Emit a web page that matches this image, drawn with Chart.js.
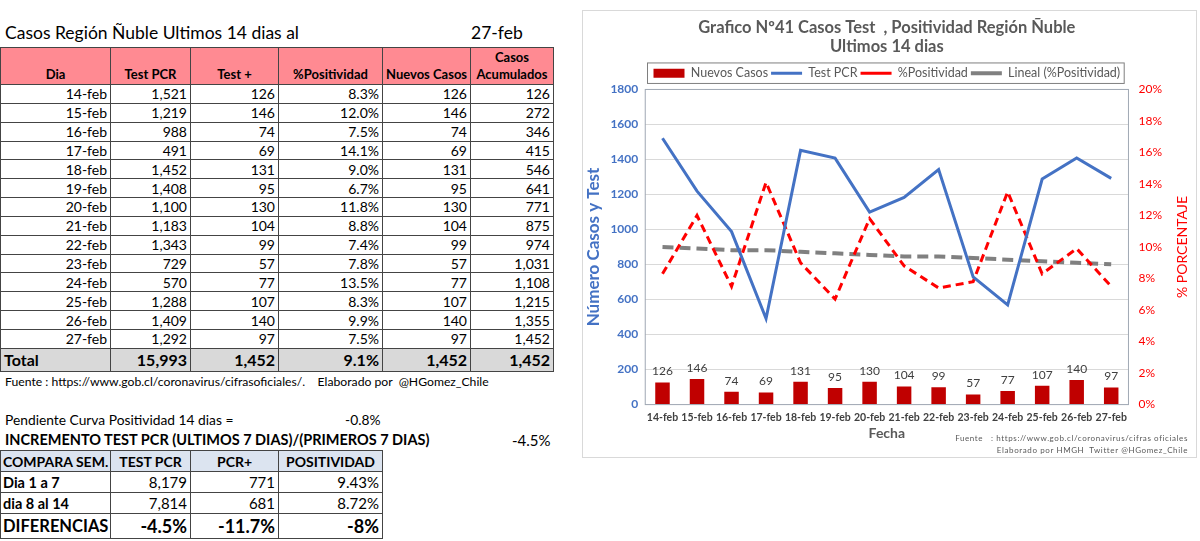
<!DOCTYPE html>
<html>
<head>
<meta charset="utf-8">
<script src="https://cdn.jsdelivr.net/npm/chart.js@4"></script>
<style>
  body { margin: 0; background: #fff; font-family: Lato, "Open Sans", sans-serif; color: #000; }
  #page { position: relative; width: 1200px; height: 541px; overflow: hidden; }
  .abs { position: absolute; white-space: nowrap; }
  table { border-collapse: collapse; table-layout: fixed; position: absolute; left: 0; }
  td, th { border: 1px solid #444; padding: 0 3px; overflow: hidden; white-space: nowrap; }
  #tabla { width: 553px; }
  #tabla th { background: #FF8A92; font-size: 13px; font-weight: bold; vertical-align: bottom; text-align: center; line-height: 17px; padding-bottom: 1px; }
  #tabla td { font-size: 14px; text-align: right; height: 17.85px; line-height: 17px; }
  #tabla tr.total td { background: #D9D9D9; font-weight: bold; font-size: 16px; height: 22px; }
  #tabla tr.total td:first-child { text-align: left; }
  #compara { width: 382px; }
  #compara th { background: #DCE4F0; font-size: 14px; font-weight: bold; height: 20px; text-align: center; padding: 0 2px; }
  #compara th:first-child { text-align: left; }
  #compara td { font-size: 15px; text-align: right; height: 20px; }
  #compara td:first-child { text-align: left; font-weight: bold; font-size: 14.5px; padding: 0 2px; }
  #compara tr.dif td { font-size: 18px; font-weight: bold; height: 24px; }
  #compara tr.dif td:first-child { font-size: 16.5px; }
  #chartBox { position: absolute; left: 582px; top: 10px; width: 613px; height: 446px; border: 1px solid #D9D9D9; }
  .nota { position: absolute; right: 8px; font-size: 8px; color: #595959; letter-spacing: 0.6px; }
</style>
</head>
<body>
<div id="page">
  <div class="abs" style="left:5px; top:22px; font-size:17.5px;">Casos Región Ñuble Ultimos 14 dias al</div>
  <div class="abs" style="left:471px; top:22px; font-size:17.5px;">27-feb</div>

  <table id="tabla" style="top:47px;">
    <colgroup><col style="width:110px"><col style="width:80px"><col style="width:88px"><col style="width:104px"><col style="width:88px"><col style="width:83px"></colgroup>
    <thead>
      <tr style="height:37px;"><th>Dia</th><th>Test PCR</th><th>Test +</th><th>%Positividad</th><th>Nuevos Casos</th><th>Casos<br>Acumulados</th></tr>
    </thead>
    <tbody id="filas"></tbody>
  </table>

  <div class="abs" style="left:5px; top:374px; font-size:12.2px;">Fuente : https://www.gob.cl/coronavirus/cifrasoficiales/.&nbsp;&nbsp;&nbsp;&nbsp;Elaborado por&nbsp; @HGomez_Chile</div>

  <div class="abs" style="left:5px; top:411px; font-size:13.8px;">Pendiente Curva Positividad 14 dias =</div>
  <div class="abs" style="left:345px; top:411px; font-size:13.8px;">-0.8%</div>
  <div class="abs" style="left:5px; top:431px; font-size:14.5px; font-weight:bold;">INCREMENTO TEST PCR (ULTIMOS 7 DIAS)/(PRIMEROS 7 DIAS)</div>
  <div class="abs" style="left:512px; top:431px; font-size:15px;">-4.5%</div>

  <table id="compara" style="top:450px;">
    <colgroup><col style="width:110px"><col style="width:80px"><col style="width:88px"><col style="width:104px"></colgroup>
    <tr><th>COMPARA SEM.</th><th>TEST PCR</th><th>PCR+</th><th>POSITIVIDAD</th></tr>
    <tr><td>Dia 1 a 7</td><td>8,179</td><td>771</td><td>9.43%</td></tr>
    <tr><td>dia 8 al 14</td><td>7,814</td><td>681</td><td>8.72%</td></tr>
    <tr class="dif"><td>DIFERENCIAS</td><td>-4.5%</td><td>-11.7%</td><td>-8%</td></tr>
  </table>

  <div id="chartBox">
    <canvas id="chart"></canvas>
    <div class="nota" style="top:422px;">Fuente&nbsp;&nbsp; : https://www.gob.cl/coronavirus/cifras oficiales</div>
    <div class="nota" style="top:434px;">Elaborado por HMGH&nbsp; Twitter @HGomez_Chile</div>
  </div>
</div>

<script>
// datos de los ultimos 14 dias
const fechas = ['14-feb', '15-feb', '16-feb', '17-feb', '18-feb', '19-feb', '20-feb',
    '21-feb', '22-feb', '23-feb', '24-feb', '25-feb', '26-feb', '27-feb'];
const testPCR = [1521, 1219, 988, 491, 1452, 1408, 1100, 1183, 1343, 729, 570, 1288, 1409, 1292];
const testPositivos = [126, 146, 74, 69, 131, 95, 130, 104, 99, 57, 77, 107, 140, 97];
const positividad = [8.3, 12.0, 7.5, 14.1, 9.0, 6.7, 11.8, 8.8, 7.4, 7.8, 13.5, 8.3, 9.9, 7.5];
const nuevosCasos = [126, 146, 74, 69, 131, 95, 130, 104, 99, 57, 77, 107, 140, 97];
const acumulados = [126, 272, 346, 415, 546, 641, 771, 875, 974, 1031, 1108, 1215, 1355, 1452];
// linea de tendencia
const tendencia = [10.0, 9.9, 9.8, 9.8, 9.7, 9.6, 9.5, 9.4, 9.4, 9.3, 9.2, 9.1, 9.0, 8.9];

const fmt = n => n.toLocaleString('en-US');

let filas = '';
fechas.forEach((f, i) => {
    filas += '<tr><td>' + f + '</td><td>' + fmt(testPCR[i]) + '</td><td>' + testPositivos[i] +
        '</td><td>' + positividad[i].toFixed(1) + '%</td><td>' + nuevosCasos[i] + '</td><td>' + fmt(acumulados[i]) + '</td></tr>';
});
filas += '<tr class="total"><td>Total</td><td>15,993</td><td>1,452</td><td>9.1%</td><td>1,452</td><td>1,452</td></tr>';
document.getElementById('filas').innerHTML = filas;

Chart.defaults.font.family = 'Lato';

// marco del area de grafico, recuadro de leyenda, etiquetas y titulo derecho
const extras = {
    id: 'extras',
    beforeDatasetsDraw(chart) {
        const a = chart.chartArea;
        const c = chart.ctx;
        c.save();
        c.strokeStyle = '#A0A8B4';
        c.lineWidth = 1;
        c.strokeRect(a.left, a.top, a.right - a.left, a.bottom - a.top);
        c.restore();
    },
    afterDatasetsDraw(chart) {
        const c = chart.ctx;
        const meta = chart.getDatasetMeta(0);
        c.save();
        c.font = '12px Lato';
        c.fillStyle = '#404040';
        c.textAlign = 'center';
        c.textBaseline = 'bottom';
        meta.data.forEach((bar, i) => {
            c.fillText(nuevosCasos[i], bar.x, bar.y - 5);
        });
        c.restore();
    },
    afterDraw(chart) {
        const c = chart.ctx;
        const lg = chart.legend;
        c.save();
        if (lg && lg.legendHitBoxes.length) {
            const hb = lg.legendHitBoxes;
            const l = Math.min(...hb.map(h => h.left)) - 6;
            const r = Math.max(...hb.map(h => h.left + h.width)) + 4;
            const t = Math.min(...hb.map(h => h.top)) - 4;
            const b = Math.max(...hb.map(h => h.top + h.height)) + 4;
            c.strokeStyle = '#7F7F7F';
            c.lineWidth = 1;
            c.strokeRect(l, t, r - l, b - t);
        }
        const a = chart.chartArea;
        c.translate(chart.width - 14, (a.top + a.bottom) / 2);
        c.rotate(-Math.PI / 2);
        c.font = '14px Lato';
        c.fillStyle = '#FF0000';
        c.textAlign = 'center';
        c.textBaseline = 'middle';
        c.fillText('% PORCENTAJE', 0, 0);
        c.restore();
    }
};

new Chart(document.getElementById('chart'), {
    data: {
        labels: fechas,
        datasets: [{
            type: 'bar',
            label: 'Nuevos Casos',
            data: nuevosCasos,
            backgroundColor: '#C00000',
            yAxisID: 'y',
            categoryPercentage: 1,
            barPercentage: 0.42
        }, {
            type: 'line',
            label: 'Test PCR',
            data: testPCR,
            borderColor: '#4472C4',
            backgroundColor: '#4472C4',
            borderWidth: 3,
            pointRadius: 0,
            tension: 0,
            yAxisID: 'y'
        }, {
            type: 'line',
            label: '%Positividad',
            data: positividad,
            borderColor: '#FF0000',
            backgroundColor: '#FF0000',
            borderWidth: 3,
            borderDash: [8, 5],
            pointRadius: 0,
            tension: 0,
            yAxisID: 'y1'
        }, {
            type: 'line',
            label: 'Lineal (%Positividad)',
            data: tendencia,
            borderColor: '#808080',
            backgroundColor: '#808080',
            borderWidth: 4,
            borderDash: [11, 6],
            pointRadius: 0,
            tension: 0,
            yAxisID: 'y1'
        }]
    },
    options: {
        responsive: true,
        maintainAspectRatio: false,
        animation: false,
        layout: { padding: { left: 0, right: 24, top: 0, bottom: 15 } },
        plugins: {
            title: {
                display: true,
                fullSize: false,
                text: ['Grafico Nº41 Casos Test  , Positividad Región Ñuble', 'Ultimos 14 dias'],
                color: '#595959',
                font: { size: 16.5, weight: 'bold', lineHeight: 1.15 },
                padding: { top: 7, bottom: 8 }
            },
            legend: {
                fullSize: false,
                labels: {
                    color: '#595959',
                    font: { size: 12.5 },
                    usePointStyle: true,
                    pointStyleWidth: 31,
                    boxHeight: 9,
                    padding: 3,
                    generateLabels(chart) {
                        const items = Chart.defaults.plugins.legend.labels.generateLabels(chart);
                        items.forEach(it => { it.pointStyle = it.datasetIndex === 0 ? 'rect' : 'line'; });
                        return items;
                    }
                }
            },
            tooltip: { enabled: false }
        },
        scales: {
            x: {
                grid: { display: false, drawTicks: false },
                border: { display: false },
                ticks: { color: '#404040', font: { size: 10.5, weight: 'bold' }, maxRotation: 0, autoSkip: false, padding: 7 },
                title: { display: true, text: 'Fecha', color: '#595959', font: { size: 14, weight: 'bold' }, padding: { top: -6, bottom: 0 } }
            },
            y: {
                position: 'left',
                min: 0,
                max: 1800,
                ticks: { stepSize: 200, callback: v => v, color: '#4472C4', font: { size: 12, weight: 'bold' }, padding: 7 },
                grid: { color: '#D9D9D9', drawTicks: false },
                border: { display: false },
                title: { display: true, text: 'Número Casos y Test', color: '#4472C4', font: { size: 17, weight: 'bold' }, padding: 0 }
            },
            y1: {
                position: 'right',
                min: 0,
                max: 20,
                ticks: { stepSize: 2, callback: v => v + '%', color: '#FF0000', font: { size: 12 }, padding: 10 },
                grid: { display: false, drawTicks: false },
                border: { display: false }
            }
        }
    },
    plugins: [extras]
});
</script>
</body>
</html>
